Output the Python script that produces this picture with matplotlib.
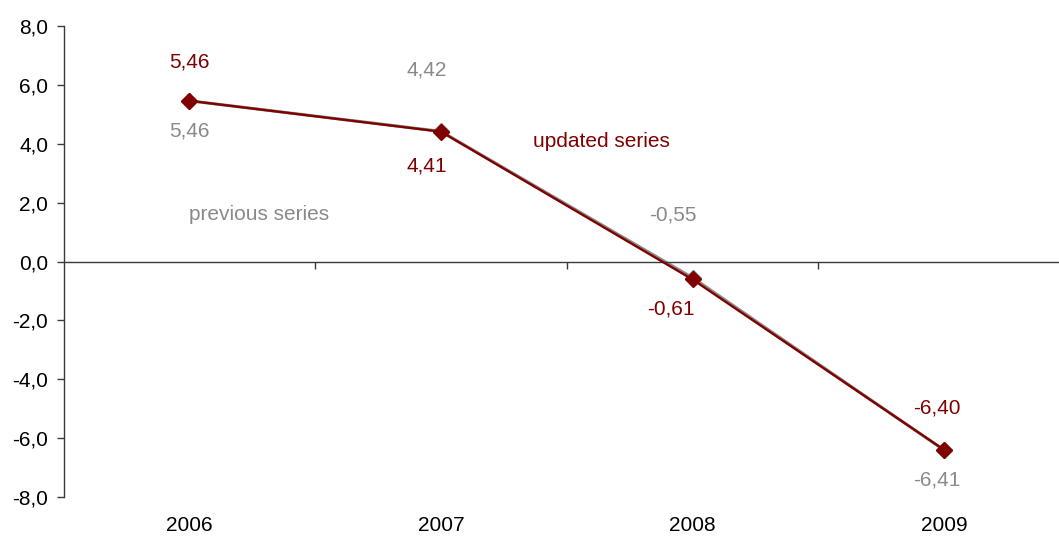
import numpy as np
import matplotlib
matplotlib.use("Agg")
import matplotlib.pyplot as plt
from matplotlib.ticker import FuncFormatter, FixedLocator

years = ["2006", "2007", "2008", "2009"]
previous = [5.46, 4.42, -0.55, -6.41]
updated = [5.46, 4.41, -0.61, -6.40]

MAROON = "#800000"
GREY = "#8a8a8a"
AXIS = "#3a3a3a"

# label offsets in pixels (dx, dy) relative to each point
updated_offsets = [(0, 39), (-14, -34), (-22, -30), (-7, 42)]
previous_offsets = [(0, -30), (-14, 61), (-20, 63), (-7, -30)]

plt.rcParams["font.family"] = ["Liberation Sans", "DejaVu Sans"]
plt.rcParams["font.size"] = 15

fig = plt.figure(figsize=(10.59, 5.36), dpi=100)
ax = fig.add_axes([63.5 / 1059, 39 / 536, (1070 - 63.5) / 1059, 471 / 536])

x = np.arange(len(years))
ax.plot(x, previous, color=GREY, lw=2.2, marker="D", ms=8, zorder=2)
ax.plot(x, updated, color=MAROON, lw=1.7, marker="D", ms=8, zorder=3)

for i in x:
    ax.annotate(f"{updated[i]:.2f}".replace(".", ","), (i, updated[i]),
                xytext=updated_offsets[i], textcoords="offset pixels",
                ha="center", va="center", color=MAROON)
    ax.annotate(f"{previous[i]:.2f}".replace(".", ","), (i, previous[i]),
                xytext=previous_offsets[i], textcoords="offset pixels",
                ha="center", va="center", color=GREY)
    # category names sit below the plot area
    ax.text(i, -0.06, years[i], transform=ax.get_xaxis_transform(),
            ha="center", va="center", color="black")

ax.text(1.365, 4.07, "updated series", color=MAROON, va="center", ha="left")
ax.text(0.0, 1.6, "previous series", color=GREY, va="center", ha="left")

ax.set_xlim(-0.5, 3.5)
ax.set_ylim(-8, 8)
ax.set_yticks(np.arange(-8, 9, 2))
ax.yaxis.set_major_formatter(FuncFormatter(lambda v, p: f"{v:.1f}".replace(".", ",")))
ax.tick_params(axis="y", length=5, width=1, color=AXIS, pad=6, labelcolor="black")

# zero line with small separators between the years
ax.spines["bottom"].set_position(("data", 0))
ax.spines["bottom"].set_color(AXIS)
ax.spines["bottom"].set_linewidth(1)
ax.xaxis.set_major_locator(FixedLocator([0.5, 1.5, 2.5]))
ax.set_xticklabels([])
ax.tick_params(axis="x", length=5, width=1, color=AXIS, direction="out")

ax.spines["left"].set_color(AXIS)
ax.spines["left"].set_linewidth(1)
ax.spines["top"].set_visible(False)
ax.spines["right"].set_visible(False)

fig.savefig("out.png", dpi=100)
